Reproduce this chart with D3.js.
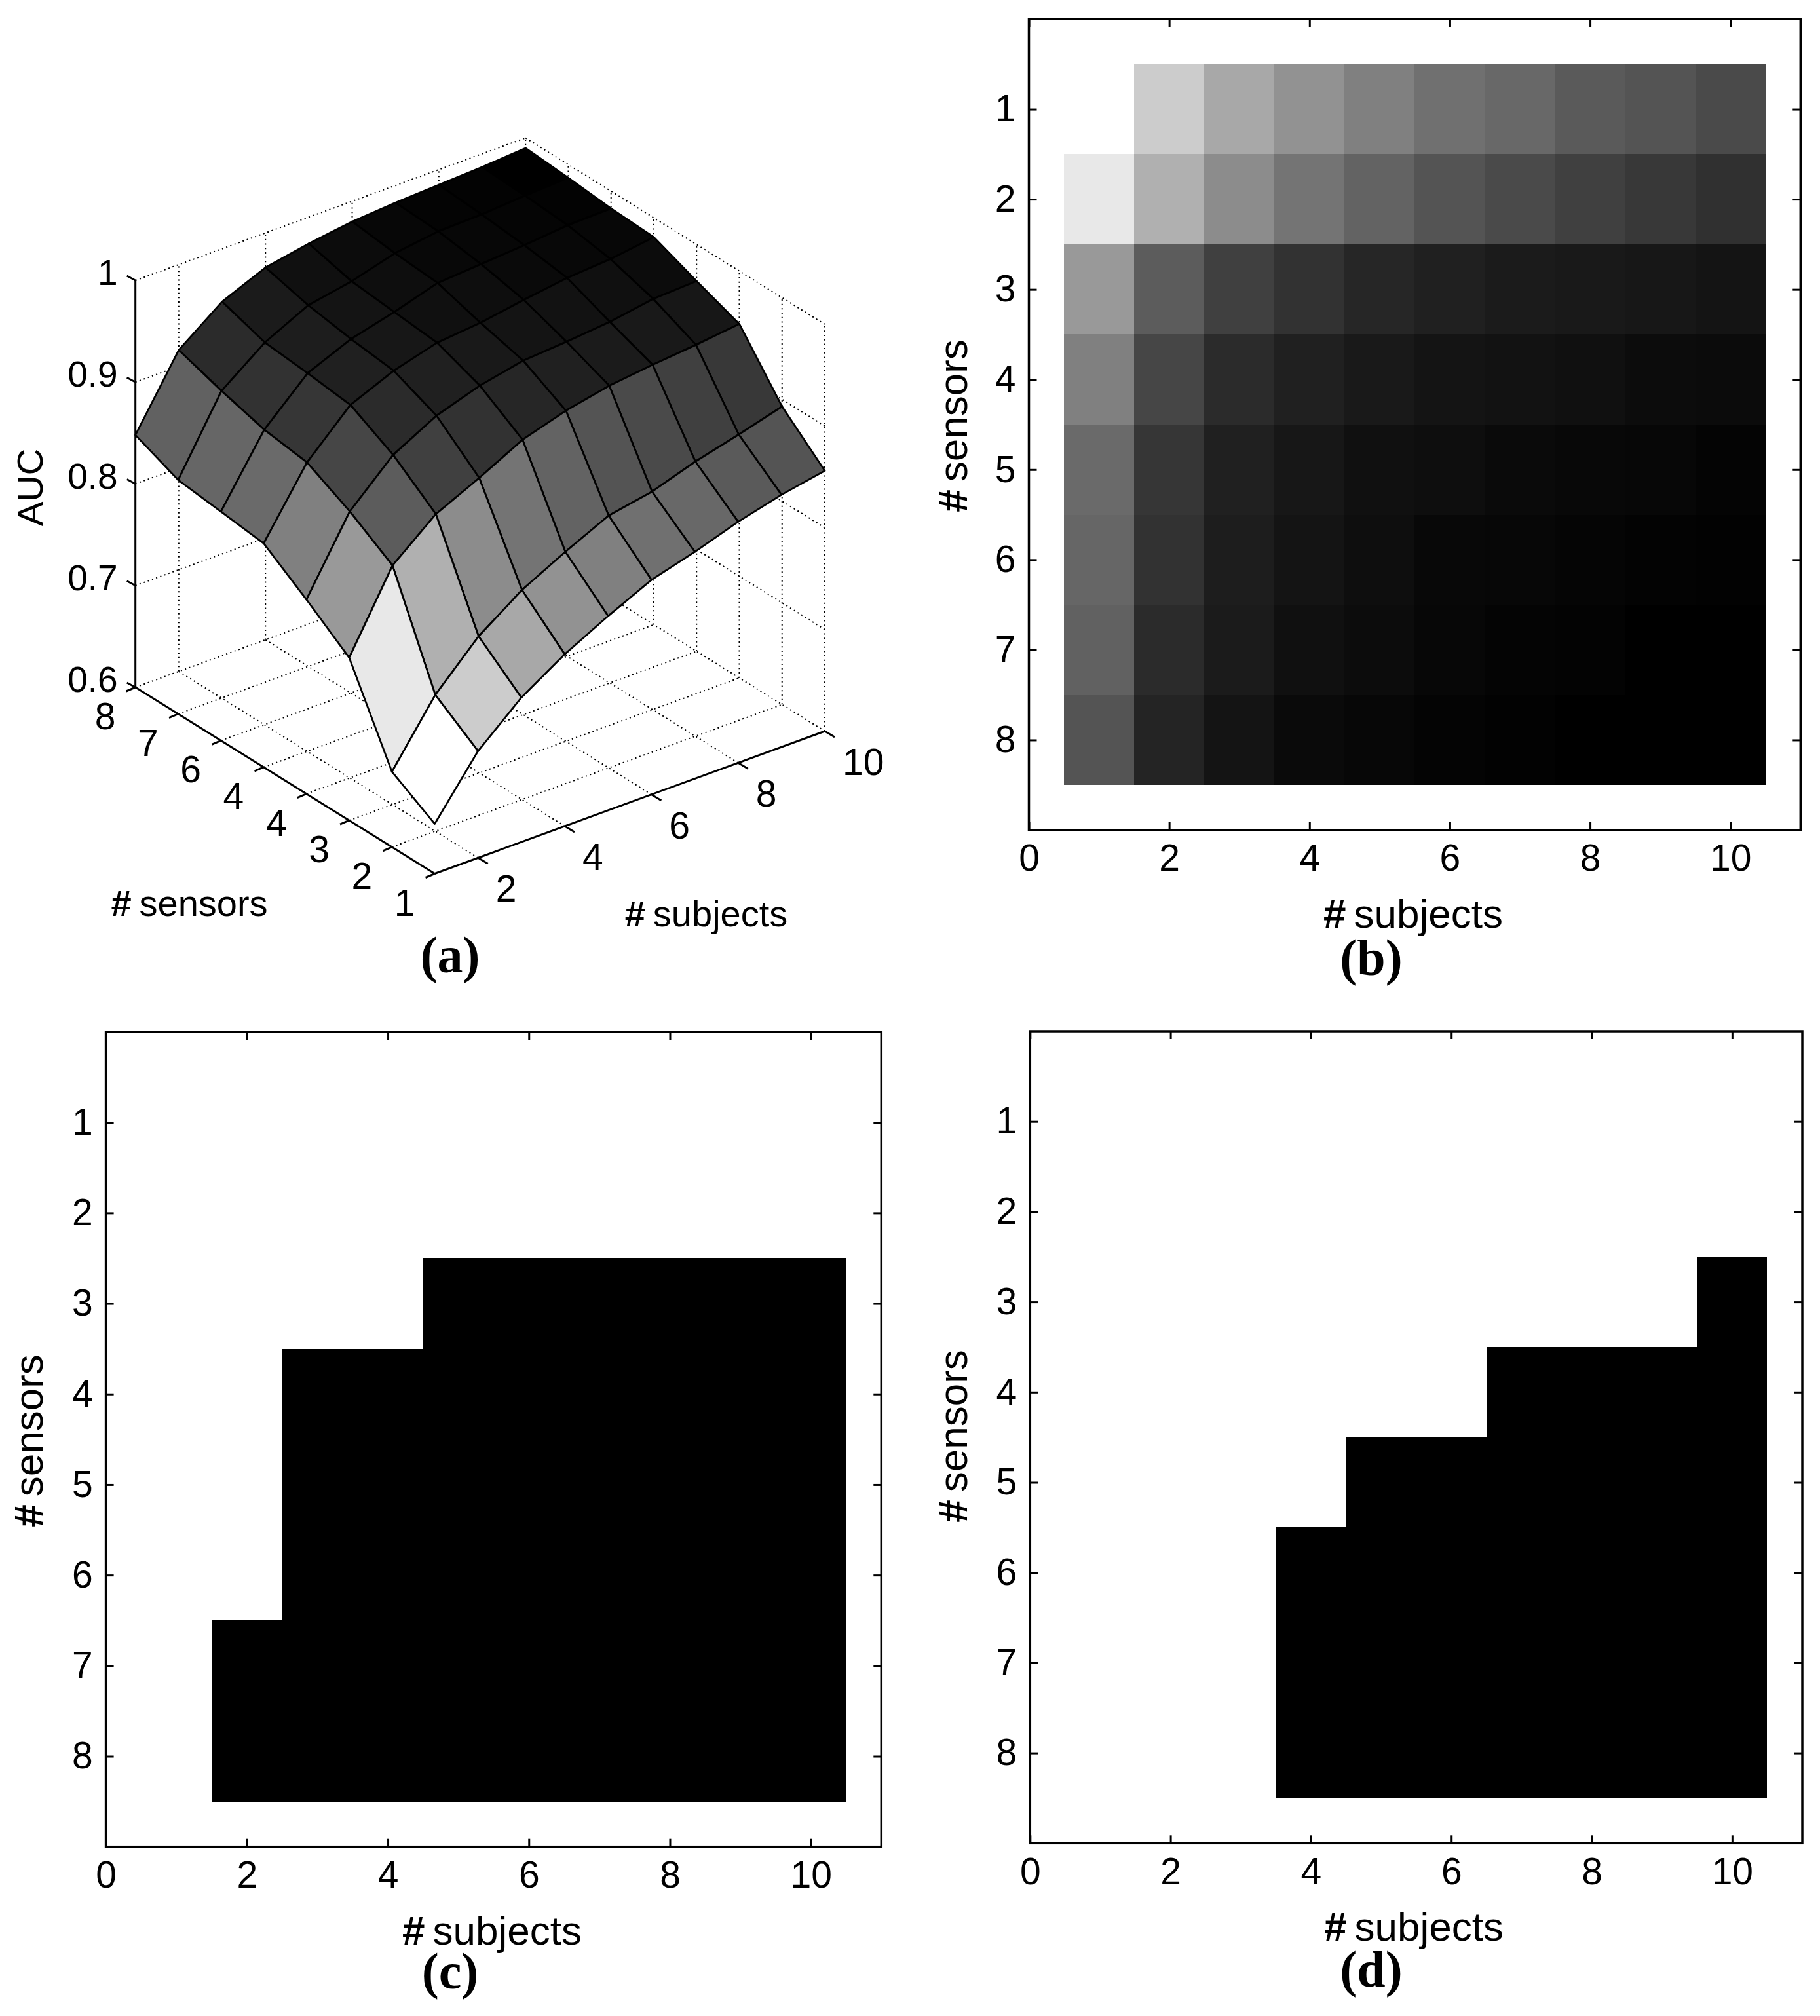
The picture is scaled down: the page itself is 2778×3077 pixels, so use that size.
<!DOCTYPE html>
<html><head><meta charset="utf-8">
<style>html,body{margin:0;padding:0;background:#fff}svg{display:block}text{fill:#000}</style>
<script src="https://cdn.jsdelivr.net/npm/d3@7"></script></head><body>
<script>
// ---------- DATA ----------
const subjects = [1,2,3,4,5,6,7,8,9,10];
const sensors = [1,2,3,4,5,6,7,8];
// AUC, one row per sensor count (1..8), one column per subject count (1..10)
const aucRow1 = [.649,.705,.742,.769,.791,.811,.823,.837,.848,.856];
const aucRow2 = [.674,.734,.776,.806,.828,.848,.856,.870,.881,.893];
const aucRow3 = [.760,.835,.870,.890,.912,.925,.934,.939,.943,.948];
const aucRow4 = [.791,.862,.902,.925,.939,.948,.951,.955,.962,.964];
const aucRow5 = [.820,.884,.925,.943,.955,.959,.966,.972,.975,.981];
const aucRow6 = [.825,.890,.930,.948,.959,.972,.975,.978,.982,.983];
const aucRow7 = [.830,.902,.934,.955,.963,.975,.981,.982,.985,.987];
const aucRow8 = [.848,.916,.948,.966,.974,.980,.983,.985,.987,.990];
const auc = [aucRow1,aucRow2,aucRow3,aucRow4,aucRow5,aucRow6,aucRow7,aucRow8];
// first subject count that is significant, per sensor count (null = none)
const firstSubjectC = [null,null,5,3,3,3,2,2];
const firstSubjectD = [null,null,10,7,5,4,4,4];
// tick labels
const xTicks2D = [0,2,4,6,8,10];
const yTicks2D = [1,2,3,4,5,6,7,8];
const zTicks3D = [1,.9,.8,.7,.6];
const zTickLabels = ["1","0.9","0.8","0.7","0.6"];
const subjectTicks3D = [2,4,6,8,10];
const sensorTicks3D = [1,2,3,4,5,6,7,8];
const sensorTickLabels3D = ["1","2","3","4","4","6","7","8"]; // as printed in the figure
// grey colormap readings: AUC -> grey level
const greyDomain = [.649,.705,.742,.769,.791,.811,.823,.837,.848,.856,.893,.948,.966,.972,.981,.985];
const greyRange  = [255,204,168,146,128,112,104,90,84,74,48,20,10,8,4,0];

// ---------- SETUP ----------
const W=2778,H=3077;
const svg=d3.select("body").append("svg").attr("width",W).attr("height",H).attr("viewBox",`0 0 ${W} ${H}`);
svg.append("rect").attr("width",W).attr("height",H).attr("fill","#fff");
const SANS="'Liberation Sans',Arial,sans-serif", SERIF="'Liberation Serif','Times New Roman',serif";
const TICK=57, TICK3D=55, LABEL=62, LABEL3D=56, TAG=78;
const greyLevel=d3.scaleLinear().domain(greyDomain).range(greyRange).clamp(true);
const greyOf=v=>{const g=Math.round(greyLevel(v));return d3.rgb(g,g,g).formatHex();};

function txt(g,x,y,s,size,anchor){
  return g.append("text").attr("x",x).attr("y",y).attr("font-family",SANS).attr("font-size",size)
    .attr("text-anchor",anchor||"middle").attr("dominant-baseline","alphabetic").text(s);
}
function hashLabel(g,x,y,s,rot,size){
  const t=g.append("text").attr("font-family",SANS).attr("font-size",size||LABEL).attr("text-anchor","middle")
    .attr("transform",`translate(${x},${y})`+(rot?` rotate(${rot})`:""));
  t.append("tspan").attr("font-weight","bold").text("#");
  t.append("tspan").attr("dx",12).text(s);
  return t;
}
function tag(x,y,letter){
  svg.append("text").attr("x",x).attr("y",y).attr("font-family",SERIF).attr("font-size",TAG)
    .attr("font-weight","bold").attr("text-anchor","middle").text(`(${letter})`);
}

// ---------- 2D PANELS ----------
function panel2D(o){
  const g=svg.append("g");
  const x=d3.scaleLinear().domain([0,11]).range([o.x0,o.x1]);
  const y=d3.scaleLinear().domain([0,9]).range([o.y0,o.y1]);
  g.append("g").attr("shape-rendering","crispEdges").selectAll("rect").data(o.cells).join("rect")
    .attr("x",d=>x(d.s-.5)).attr("y",d=>y(d.n-.5))
    .attr("width",d=>x(d.s+.5)-x(d.s-.5)).attr("height",d=>y(d.n+.5)-y(d.n-.5))
    .attr("fill",d=>d.fill);
  g.append("rect").attr("x",o.x0).attr("y",o.y0).attr("width",o.x1-o.x0).attr("height",o.y1-o.y0)
    .attr("fill","none").attr("stroke","#000").attr("stroke-width",3.5);
  const T=12;
  const axB=d3.axisBottom(x).tickValues(xTicks2D).tickSize(-T).tickPadding(T+10).tickFormat(d3.format("d"));
  const axT=d3.axisTop(x).tickValues(xTicks2D).tickSize(-T).tickFormat("");
  const axL=d3.axisLeft(y).tickValues(yTicks2D).tickSize(-T).tickPadding(T+8).tickFormat(d3.format("d"));
  const axR=d3.axisRight(y).tickValues(yTicks2D).tickSize(-T).tickFormat("");
  const place=(ax,tx,ty)=>{
    const a=g.append("g").attr("transform",`translate(${tx},${ty})`).call(ax);
    a.select(".domain").remove();
    a.selectAll("line").attr("stroke","#000").attr("stroke-width",3);
    a.selectAll("text").attr("font-family",SANS).attr("font-size",TICK).attr("fill","#000");
    return a;
  };
  place(axB,0,o.y1); place(axT,0,o.y0); place(axL,o.x0,0); place(axR,o.x1,0);
  hashLabel(g,o.xlx,o.xly,"subjects");
  hashLabel(g,o.ylx,o.yly,"sensors",-90);
  tag(o.tagx,o.tagy,o.letter);
}
const heatCells=[];
sensors.forEach((n,i)=>subjects.forEach((s,j)=>{
  const v=auc[i][j];
  if(greyLevel(v)<255) heatCells.push({s,n,fill:greyOf(v)});
}));
const maskCells=first=>{
  const out=[];
  sensors.forEach((n,i)=>{ if(first[i]!==null) subjects.filter(s=>s>=first[i]).forEach(s=>out.push({s,n,fill:"#000"})); });
  return out;
};
panel2D({x0:1570.5,x1:2748.3,y0:29,y1:1267,cells:heatCells,xlx:2157,xly:1416,ylx:1476,yly:650,tagx:2093,tagy:1488,letter:"b"});
panel2D({x0:161.6,x1:1345.3,y0:1575,y1:2818.7,cells:maskCells(firstSubjectC),xlx:751,xly:2968,ylx:65,yly:2199,tagx:687,tagy:3035,letter:"c"});
panel2D({x0:1572.3,x1:2751,y0:1574,y1:2813.3,cells:maskCells(firstSubjectD),xlx:2158,xly:2962,ylx:1476,yly:2192,tagx:2093,tagy:3032,letter:"d"});

// ---------- 3D PANEL ----------
const g3=svg.append("g");
const L={x:206.7,y:1049}, F={x:663.5,y:1333.5}, R={x:1259,y:1116};
const boxH=621;
const fS=d3.scaleLinear().domain([1,10]).range([0,1]);
const fN=d3.scaleLinear().domain([1,8]).range([0,1]);
const fZ=d3.scaleLinear().domain([.6,1]).range([0,boxH]);
const proj=(s,n,z)=>[
  F.x+fS(s)*(R.x-F.x)+fN(n)*(L.x-F.x),
  F.y+fS(s)*(R.y-F.y)+fN(n)*(L.y-F.y)-fZ(z)
];
const line=d3.line();
const dotted=(a,b)=>g3.append("path").attr("d",line([a,b])).attr("fill","none").attr("stroke","#000")
  .attr("stroke-width",2).attr("stroke-dasharray","2 4.7");
// floor grid
subjectTicks3D.forEach(s=>dotted(proj(s,1,.6),proj(s,8,.6)));
sensorTicks3D.forEach(n=>dotted(proj(1,n,.6),proj(10,n,.6)));
// back walls (each edge drawn once)
subjectTicks3D.forEach(s=>dotted(proj(s,8,.6),proj(s,8,1)));
sensorTicks3D.filter(n=>n<8).forEach(n=>dotted(proj(10,n,.6),proj(10,n,1)));
zTicks3D.filter(z=>z>.6).forEach(z=>{dotted(proj(1,8,z),proj(10,8,z));dotted(proj(10,8,z),proj(10,1,z));});
// axes
const solid=(a,b,w)=>g3.append("path").attr("d",line([a,b])).attr("fill","none").attr("stroke","#000").attr("stroke-width",w||3);
solid(proj(1,8,.6),proj(1,8,1));
solid(proj(1,1,.6),proj(1,8,.6));
solid(proj(1,1,.6),proj(10,1,.6));
// ticks
zTicks3D.forEach(z=>{const p=proj(1,8,z);solid(p,[p[0]-13,p[1]-7]);});
sensorTicks3D.forEach(n=>{const p=proj(1,n,.6);solid(p,[p[0]-14,p[1]+6]);});
subjectTicks3D.forEach(s=>{const p=proj(s,1,.6);solid(p,[p[0]+15,p[1]+9]);});
// surface: back to front, each facet coloured by its lowest-index corner
const facets=[];
for(let j=subjects.length-2;j>=0;j--) for(let i=sensors.length-2;i>=0;i--){
  facets.push({i,j,pts:[
    proj(subjects[j],sensors[i],auc[i][j]),
    proj(subjects[j+1],sensors[i],auc[i][j+1]),
    proj(subjects[j+1],sensors[i+1],auc[i+1][j+1]),
    proj(subjects[j],sensors[i+1],auc[i+1][j])
  ]});
}
g3.append("g").selectAll("path").data(facets).join("path")
  .attr("d",d=>line(d.pts)+"Z").attr("fill",d=>greyOf(auc[d.i][d.j]))
  .attr("stroke","#000").attr("stroke-width",2.8).attr("stroke-linejoin","round");
// tick labels
zTicks3D.forEach((z,i)=>{const p=proj(1,8,z);txt(g3,p[0]-27,p[1]+7,zTickLabels[i],TICK3D,"end");});
sensorTicks3D.forEach((n,i)=>{const p=proj(1,n,.6);txt(g3,p[0]-46,p[1]+64,sensorTickLabels3D[i],TICK,"middle");});
subjectTicks3D.forEach(s=>{const p=proj(s,1,.6);txt(g3,p[0]+27,p[1]+67,String(s),TICK,"start");});
hashLabel(g3,289,1398,"sensors",0,LABEL3D);
hashLabel(g3,1078,1414,"subjects",0,LABEL3D);
g3.append("text").attr("font-family",SANS).attr("font-size",LABEL3D).attr("text-anchor","middle")
  .attr("transform","translate(65,744) rotate(-90)").text("AUC");
tag(687,1484,"a");
</script></body></html>
